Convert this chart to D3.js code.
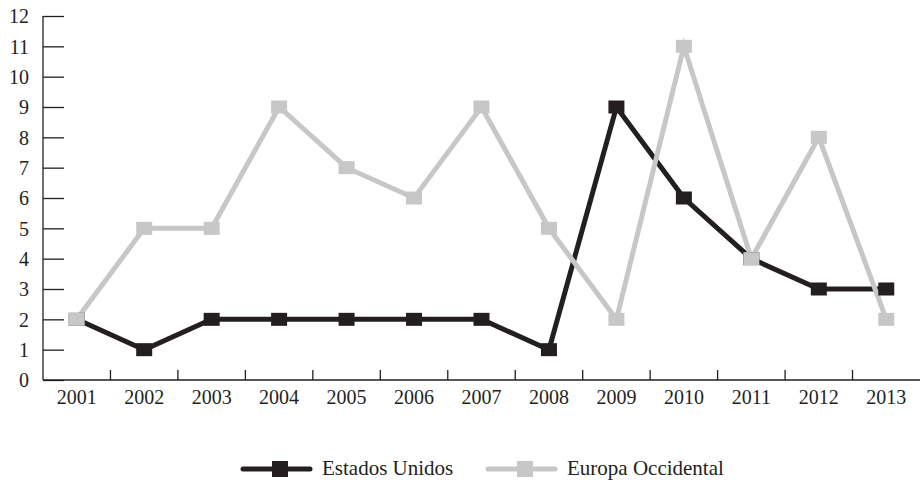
<!DOCTYPE html>
<html>
<head>
    <meta charset="utf-8" />
    <title>Estados Unidos vs Europa Occidental</title>
    <style>
        body { margin: 0; background: #ffffff; }
        text { font-family: 'Liberation Serif', 'Times New Roman', serif; fill: #231f20; }
        .axis path, .axis line { stroke: #231f20; stroke-width: 1.3px; }
    </style>
    <script src="https://cdn.jsdelivr.net/npm/d3@7"></script>
</head>
<body>
    <svg width="920" height="481"></svg>

    <script>
        var years = ['2001', '2002', '2003', '2004', '2005', '2006', '2007',
                     '2008', '2009', '2010', '2011', '2012', '2013'];
        var estadosUnidos = [2, 1, 2, 2, 2, 2, 2, 1, 9, 6, 4, 3, 3];
        var europaOccidental = [2, 5, 5, 9, 7, 6, 9, 5, 2, 11, 4, 8, 2];
        var yTicks = [0, 1, 2, 3, 4, 5, 6, 7, 8, 9, 10, 11, 12];

        var series = [
            { name: 'Estados Unidos', values: estadosUnidos, color: '#231f20' },
            { name: 'Europa Occidental', values: europaOccidental, color: '#c6c7c6' }
        ];

        var svg = d3.select('svg');

        var x = d3.scaleBand()
            .domain(years)
            .range([43, 920]);

        var y = d3.scaleLinear()
            .domain([0, 12])
            .range([380, 16]);

        // y axis, ticks pointing inward
        var yAxis = svg.append('g')
            .attr('class', 'axis')
            .attr('transform', 'translate(43,0)')
            .call(d3.axisRight(y).tickValues(yTicks).tickSize(21).tickSizeOuter(0));
        yAxis.select('.domain').remove();
        yAxis.append('line')
            .attr('y1', y(0)).attr('y2', y(12))
            .attr('stroke', '#231f20').attr('stroke-width', 1.3);
        yAxis.selectAll('text')
            .attr('x', -14)
            .attr('text-anchor', 'end')
            .attr('dy', '0.34em')
            .style('font-size', '20px');

        // x axis with ticks between categories
        var xAxis = svg.append('g')
            .attr('class', 'axis')
            .attr('transform', 'translate(0,' + y(0) + ')');
        xAxis.append('line')
            .attr('x1', x.range()[0]).attr('x2', x.range()[1]);
        xAxis.selectAll('.tick-line')
            .data(years.slice(1))
            .enter().append('line')
                .attr('class', 'tick-line')
                .attr('x1', function(d) { return x(d); })
                .attr('x2', function(d) { return x(d); })
                .attr('y1', 0).attr('y2', -10);
        xAxis.selectAll('text')
            .data(years)
            .enter().append('text')
                .attr('x', function(d) { return x(d) + x.bandwidth() / 2; })
                .attr('y', 24)
                .attr('text-anchor', 'middle')
                .style('font-size', '20px')
                .text(function(d) { return d; });

        var line = d3.line()
            .x(function(d, i) { return x(years[i]) + x.bandwidth() / 2; })
            .y(function(d) { return y(d); });

        // lines first, then markers on top
        series.forEach(function(s) {
            svg.append('path')
                .datum(s.values)
                .attr('fill', 'none')
                .attr('stroke', s.color)
                .attr('stroke-width', 5)
                .attr('stroke-linejoin', 'miter')
                .attr('d', line);
        });
        series.forEach(function(s) {
            svg.append('g').selectAll('rect')
                .data(s.values)
                .enter().append('rect')
                    .attr('x', function(d, i) { return x(years[i]) + x.bandwidth() / 2 - 8; })
                    .attr('y', function(d) { return y(d) - 6.5; })
                    .attr('width', 16)
                    .attr('height', 13)
                    .attr('fill', s.color);
        });

        // legend
        var legendX = [243, 488];
        var legend = svg.append('g').attr('transform', 'translate(0,469)');
        series.forEach(function(s, i) {
            var g = legend.append('g').attr('transform', 'translate(' + legendX[i] + ',0)');
            g.append('line')
                .attr('x1', 0).attr('x2', 67)
                .attr('stroke', s.color)
                .attr('stroke-width', 5)
                .attr('stroke-linecap', 'round');
            g.append('rect')
                .attr('x', 29).attr('y', -8)
                .attr('width', 16).attr('height', 16)
                .attr('fill', s.color);
            g.append('text')
                .attr('x', 79)
                .attr('y', 6)
                .style('font-size', '21px')
                .text(s.name);
        });
    </script>
</body>
</html>
